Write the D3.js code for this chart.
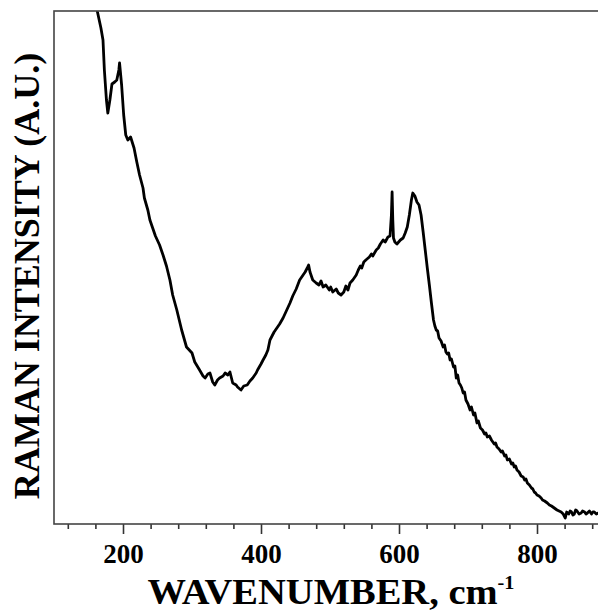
<!DOCTYPE html>
<html>
<head>
<meta charset="utf-8">
<script src="https://cdn.jsdelivr.net/npm/d3@7"></script>
<style>
  html, body { margin: 0; padding: 0; background: #fff; }
  svg { display: block; }
</style>
</head>
<body>
<div id="chart"></div>
<script>
// wavenumber (cm-1)
const wavenumber = [
	160, 163, 168, 171, 173, 176, 178, 181, 184, 188, 191, 194, 195, 198, 201, 204, 207, 211, 216, 220,
	224, 229, 231, 236, 239, 243, 247, 253, 258, 263, 268, 272, 278, 285, 292, 300, 304, 311, 316, 319,
	323, 326, 330, 333, 337, 340, 345, 348, 352, 355, 359, 364, 366, 371, 375, 380, 384, 388, 393, 395,
	400, 403, 407, 410, 413, 416, 419, 423, 427, 432, 436, 442, 446, 451, 456, 461, 464, 467, 469, 471,
	475, 480, 484, 487, 490, 494, 499, 501, 504, 509, 512, 516, 520, 523, 526, 529, 533, 538, 541, 544,
	546, 549, 552, 557, 560, 562, 567, 570, 573, 577, 580, 584, 587, 589, 590, 591, 592, 594, 597, 602,
	606, 609, 612, 615, 618, 620, 623, 626, 629, 632, 635, 638, 641, 644, 647, 650, 652, 654, 656, 658,
	661, 664, 666, 668, 670, 672, 674, 676, 679, 681, 683, 685, 687, 689, 691, 693, 695, 697, 700, 703,
	705, 708, 710, 713, 715, 718, 721, 724, 726, 728, 731, 734, 736, 738, 740, 742, 745, 748, 750, 753,
	755, 757, 760, 763, 765, 767, 769, 771, 774, 777, 780, 782, 784, 786, 789, 792, 794, 796, 798, 800,
	803, 806, 808, 811, 813, 815, 818, 821, 823, 825, 827, 829, 832, 835, 838, 841, 843, 846, 848, 850,
	852, 854, 856, 858, 861, 864, 866, 869, 871, 873, 876, 879, 881, 883, 886, 889, 892, 895
];

// raman intensity (a.u.)
const intensity = [
	524, 512, 496, 484, 454, 424, 411, 424, 440, 442, 444, 454, 461, 439, 409, 389, 384, 387, 376, 362,
	349, 336, 326, 314, 304, 296, 288, 279, 269, 258, 244, 229, 214, 194, 177, 171, 162, 154, 148, 146,
	150, 151, 142, 139, 144, 146, 148, 151, 149, 152, 141, 139, 137, 134, 138, 139, 143, 146, 151, 154,
	160, 164, 169, 174, 184, 188, 192, 196, 200, 206, 212, 221, 228, 235, 244, 249, 252, 256, 259, 252,
	244, 241, 239, 243, 237, 239, 234, 237, 232, 235, 231, 229, 232, 238, 234, 241, 244, 249, 254, 258,
	256, 262, 264, 267, 270, 268, 274, 276, 280, 284, 282, 287, 288, 309, 332, 304, 286, 282, 280, 284,
	286, 291, 297, 309, 324, 331, 328, 322, 319, 309, 292, 274, 256, 239, 221, 204, 198, 194, 193, 186,
	183, 177, 179, 172, 170, 171, 164, 165, 157, 158, 146, 149, 141, 139, 136, 131, 132, 124, 120, 114,
	117, 109, 111, 101, 103, 96, 94, 90, 91, 87, 88, 84, 82, 80, 81, 77, 75, 72, 73, 68,
	69, 64, 65, 60, 61, 57, 58, 54, 52, 48, 47, 44, 45, 41, 39, 36, 35, 32, 31, 29,
	28, 26, 24, 23, 22, 21, 19, 18, 17, 16, 15, 14, 13, 12, 10, 6, 12, 10, 13, 12,
	9, 10, 14, 13, 10, 11, 13, 12, 10, 11, 13, 10, 12, 12, 10, 11, 13, 12
];

const majorTicks = [200, 400, 600, 800];
const minorTicks = [120, 160, 240, 280, 320, 360, 440, 480, 520, 560, 640, 680, 720, 760, 840, 880];

const width = 598;
const height = 612;
const margin = ({ top: 11, right: -8, bottom: 88, left: 54 });

const data = wavenumber.map((w, i) => ({ w: w, v: intensity[i] }));

const x = d3.scaleLinear()
	.domain([100, 900])
	.range([margin.left, width - margin.right]);

const y = d3.scaleLinear()
	.domain([0, 513])
	.range([height - margin.bottom, margin.top]);

const svg = d3.select('#chart')
	.append('svg')
	.attr('width', width)
	.attr('height', height)
	.attr('viewBox', [0, 0, width, height]);

svg.append('defs').append('clipPath')
	.attr('id', 'plot-clip')
	.append('rect')
	.attr('x', x(100))
	.attr('y', y(513))
	.attr('width', x(900) - x(100))
	.attr('height', y(0) - y(513));

// 曲线
const line = d3.line()
	.x(d => x(d.w))
	.y(d => y(d.v));

svg.append('path')
	.datum(data)
	.attr('clip-path', 'url(#plot-clip)')
	.attr('fill', 'none')
	.attr('stroke', '#000')
	.attr('stroke-width', 2.8)
	.attr('stroke-linejoin', 'round')
	.attr('d', line);

// 坐标轴
const minorAxis = svg.append('g')
	.attr('transform', `translate(0,${y(0)})`)
	.call(d3.axisBottom(x).tickValues(minorTicks).tickSize(5).tickSizeOuter(0).tickFormat(''));
minorAxis.select('.domain').remove();

const majorAxis = svg.append('g')
	.attr('transform', `translate(0,${y(0)})`)
	.call(d3.axisBottom(x).tickValues(majorTicks).tickSize(10).tickSizeOuter(0).tickFormat(d3.format('d')));
majorAxis.select('.domain').remove();

svg.selectAll('.tick line')
	.attr('stroke', '#333')
	.attr('stroke-width', 1.6);

majorAxis.selectAll('text')
	.attr('y', 39)
	.attr('dy', 0)
	.attr('fill', '#000')
	.style('font-family', '"Liberation Serif", "Times New Roman", serif')
	.style('font-weight', 'bold')
	.style('font-size', '27px');

// 边框
svg.append('rect')
	.attr('x', x(100))
	.attr('y', y(513))
	.attr('width', x(900) - x(100))
	.attr('height', y(0) - y(513))
	.attr('fill', 'none')
	.attr('stroke', '#444')
	.attr('stroke-width', 1.6);

// 标题
const xLabel = svg.append('text')
	.attr('transform', 'translate(331,604) scale(1.07,1)')
	.attr('text-anchor', 'middle')
	.style('font-family', '"Liberation Serif", "Times New Roman", serif')
	.style('font-weight', 'bold')
	.style('font-size', '36px');
xLabel.append('tspan').text('WAVENUMBER, cm');
xLabel.append('tspan')
	.attr('dy', -15)
	.style('font-size', '19px')
	.text('-1');

svg.append('text')
	.attr('transform', 'translate(39,276) rotate(-90)')
	.attr('text-anchor', 'middle')
	.style('font-family', '"Liberation Serif", "Times New Roman", serif')
	.style('font-weight', 'bold')
	.style('font-size', '36px')
	.text('RAMAN INTENSITY (A.U.)');
</script>
</body>
</html>
